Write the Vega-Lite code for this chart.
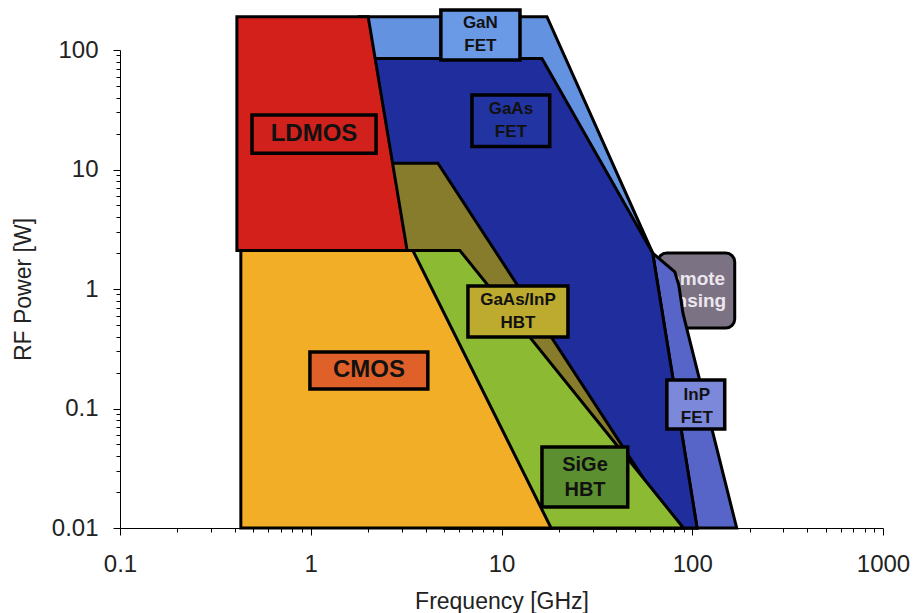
{
  "$schema": "https://vega.github.io/schema/vega-lite/v6.json",
  "width": 763,
  "height": 478,
  "autosize": {"type": "none"},
  "padding": {"left": 120, "top": 50, "right": 34, "bottom": 85},
  "background": "white",
  "config": {"view": {"stroke": null}, "font": "Liberation Sans"},
  "datasets": {
    "poly": [
      {"region": "InP", "i": 0, "x": 62, "y": 2.0},
      {"region": "InP", "i": 1, "x": 81, "y": 1.39},
      {"region": "InP", "i": 2, "x": 85, "y": 1.08},
      {"region": "InP", "i": 3, "x": 89.3, "y": 0.63},
      {"region": "InP", "i": 4, "x": 171, "y": 0.01},
      {"region": "InP", "i": 5, "x": 53, "y": 0.01},
      {"region": "GaN", "i": 0, "x": 1.8, "y": 190},
      {"region": "GaN", "i": 1, "x": 17.3, "y": 190},
      {"region": "GaN", "i": 2, "x": 62, "y": 2.0},
      {"region": "GaN", "i": 3, "x": 106, "y": 0.01},
      {"region": "GaN", "i": 4, "x": 5, "y": 0.01},
      {"region": "GaAsFET", "i": 0, "x": 1.8, "y": 85},
      {"region": "GaAsFET", "i": 1, "x": 16.3, "y": 85},
      {"region": "GaAsFET", "i": 2, "x": 62, "y": 2.0},
      {"region": "GaAsFET", "i": 3, "x": 106, "y": 0.01},
      {"region": "GaAsFET", "i": 4, "x": 5, "y": 0.01},
      {"region": "HBT", "i": 0, "x": 2.3, "y": 11.3},
      {"region": "HBT", "i": 1, "x": 4.64, "y": 11.3},
      {"region": "HBT", "i": 2, "x": 82, "y": 0.01},
      {"region": "HBT", "i": 3, "x": 5, "y": 0.01},
      {"region": "LDMOS", "i": 0, "x": 0.41, "y": 190},
      {"region": "LDMOS", "i": 1, "x": 2.0, "y": 190},
      {"region": "LDMOS", "i": 2, "x": 3.2, "y": 2.1},
      {"region": "LDMOS", "i": 3, "x": 0.41, "y": 2.1},
      {"region": "SiGe", "i": 0, "x": 3.2, "y": 2.1},
      {"region": "SiGe", "i": 1, "x": 6.05, "y": 2.1},
      {"region": "SiGe", "i": 2, "x": 90, "y": 0.01},
      {"region": "SiGe", "i": 3, "x": 9.8, "y": 0.01},
      {"region": "CMOS", "i": 0, "x": 0.43, "y": 2.1},
      {"region": "CMOS", "i": 1, "x": 3.43, "y": 2.1},
      {"region": "CMOS", "i": 2, "x": 18.2, "y": 0.01},
      {"region": "CMOS", "i": 3, "x": 0.43, "y": 0.01}
    ],
    "remote": [
      {"name": "Remote\nsensing", "x1": 66, "x2": 167, "y1": 0.472, "y2": 2.0, "cx": 97.7, "cy": 0.98}
    ],
    "labels": [
      {"name": "LDMOS", "group": "big", "x1": 0.492, "x2": 2.2, "y1": 13.7, "y2": 28.6, "cx": 1.04, "cy": 19.8},
      {"name": "CMOS", "group": "big", "x1": 0.99, "x2": 4.11, "y1": 0.1455, "y2": 0.297, "cx": 2.02, "cy": 0.208},
      {"name": "GaN\nFET", "group": "small", "x1": 4.81, "x2": 12.5, "y1": 82.5, "y2": 216, "cx": 7.75, "cy": 133.6},
      {"name": "GaAs\nFET", "group": "small", "x1": 7.0, "x2": 17.9, "y1": 15.6, "y2": 42, "cx": 11.2, "cy": 25.5},
      {"name": "GaAs/InP\nHBT", "group": "small", "x1": 6.67, "x2": 22.3, "y1": 0.396, "y2": 1.06, "cx": 12.2, "cy": 0.649},
      {"name": "SiGe\nHBT", "group": "mid", "x1": 16.3, "x2": 45.9, "y1": 0.015, "y2": 0.0476, "cx": 27.4, "cy": 0.0267},
      {"name": "InP\nFET", "group": "small", "x1": 73.6, "x2": 148, "y1": 0.0673, "y2": 0.173, "cx": 105.7, "cy": 0.104}
    ]
  },
  "layer": [
    {
      "data": {"name": "remote"},
      "mark": {"type": "rect", "fill": "#7b7283", "stroke": "#000", "strokeWidth": 3, "cornerRadius": 9, "clip": false},
      "encoding": {
        "x": {"field": "x1", "type": "quantitative", "title": "Frequency [GHz]", "scale": {"type": "log", "domain": [0.1, 1000], "nice": false},
          "axis": {
            "title": "Frequency [GHz]",
            "values": [0.1,0.2,0.3,0.4,0.5,0.6,0.7,0.8,0.9,1,2,3,4,5,6,7,8,9,10,20,30,40,50,60,70,80,90,100,200,300,400,500,600,700,800,900,1000],
            "labelExpr": "abs(log(datum.value)/LN10 - round(log(datum.value)/LN10)) < 0.001 ? format(datum.value, '~g') : ''",
            "tickSize": {"condition": {"test": "abs(log(datum.value)/LN10 - round(log(datum.value)/LN10)) < 0.001", "value": 7}, "value": 4},
            "grid": false, "domainColor": "#000", "tickColor": "#000", "domainWidth": 1, "tickWidth": 1,
            "labelFontSize": 24, "labelColor": "#222", "labelPadding": 17, "labelOverlap": false, "labelFlush": false, "labelBound": false,
            "titleFontSize": 23, "titleFontWeight": "normal", "titleColor": "#222", "titlePadding": 14
          }},
        "x2": {"field": "x2"},
        "y": {"field": "y1", "type": "quantitative", "title": "RF Power [W]", "scale": {"type": "log", "domain": [0.01, 100], "nice": false},
          "axis": {
            "title": "RF Power [W]",
            "values": [0.01,0.02,0.03,0.04,0.05,0.06,0.07,0.08,0.09,0.1,0.2,0.3,0.4,0.5,0.6,0.7,0.8,0.9,1,2,3,4,5,6,7,8,9,10,20,30,40,50,60,70,80,90,100],
            "labelExpr": "abs(log(datum.value)/LN10 - round(log(datum.value)/LN10)) < 0.001 ? format(datum.value, '~g') : ''",
            "tickSize": {"condition": {"test": "abs(log(datum.value)/LN10 - round(log(datum.value)/LN10)) < 0.001", "value": 7}, "value": 4},
            "grid": false, "domainColor": "#000", "tickColor": "#000", "domainWidth": 1, "tickWidth": 1,
            "labelFontSize": 24, "labelColor": "#222", "labelPadding": 15, "labelOverlap": false, "labelFlush": false, "labelBound": false,
            "titleFontSize": 23, "titleFontWeight": "normal", "titleColor": "#222", "titlePadding": 16
          }},
        "y2": {"field": "y2"}
      }
    },
    {
      "data": {"name": "remote"},
      "mark": {"type": "text", "font": "Liberation Sans", "fontWeight": "bold", "fontSize": 19, "lineHeight": 22, "lineBreak": "\n", "dy": -11, "color": "#ece6ee", "align": "center", "baseline": "middle", "clip": false},
      "encoding": {
        "x": {"field": "cx", "type": "quantitative", "title": "Frequency [GHz]"},
        "y": {"field": "cy", "type": "quantitative", "title": "RF Power [W]"},
        "text": {"field": "name"}
      }
    },
    {
      "data": {"name": "poly"},
      "transform": [{"filter": "datum.region == 'InP'"}],
      "mark": {"type": "line", "interpolate": "linear-closed", "fill": "#5865c8", "stroke": "#000", "strokeWidth": 3, "strokeJoin": "miter", "clip": false},
      "encoding": {
        "x": {"field": "x", "type": "quantitative", "title": "Frequency [GHz]"},
        "y": {"field": "y", "type": "quantitative", "title": "RF Power [W]"},
        "order": {"field": "i", "type": "quantitative"}
      }
    },
    {
      "data": {"name": "poly"},
      "transform": [{"filter": "datum.region == 'GaN'"}],
      "mark": {"type": "line", "interpolate": "linear-closed", "fill": "#6392e0", "stroke": "#000", "strokeWidth": 3, "strokeJoin": "miter", "clip": false},
      "encoding": {
        "x": {"field": "x", "type": "quantitative", "title": "Frequency [GHz]"},
        "y": {"field": "y", "type": "quantitative", "title": "RF Power [W]"},
        "order": {"field": "i", "type": "quantitative"}
      }
    },
    {
      "data": {"name": "poly"},
      "transform": [{"filter": "datum.region == 'GaAsFET'"}],
      "mark": {"type": "line", "interpolate": "linear-closed", "fill": "#1f2e9c", "stroke": "#000", "strokeWidth": 3, "strokeJoin": "miter", "clip": false},
      "encoding": {
        "x": {"field": "x", "type": "quantitative", "title": "Frequency [GHz]"},
        "y": {"field": "y", "type": "quantitative", "title": "RF Power [W]"},
        "order": {"field": "i", "type": "quantitative"}
      }
    },
    {
      "data": {"name": "poly"},
      "transform": [{"filter": "datum.region == 'HBT'"}],
      "mark": {"type": "line", "interpolate": "linear-closed", "fill": "#877b2c", "stroke": "#000", "strokeWidth": 3, "strokeJoin": "miter", "clip": false},
      "encoding": {
        "x": {"field": "x", "type": "quantitative", "title": "Frequency [GHz]"},
        "y": {"field": "y", "type": "quantitative", "title": "RF Power [W]"},
        "order": {"field": "i", "type": "quantitative"}
      }
    },
    {
      "data": {"name": "poly"},
      "transform": [{"filter": "datum.region == 'LDMOS'"}],
      "mark": {"type": "line", "interpolate": "linear-closed", "fill": "#d4201b", "stroke": "#000", "strokeWidth": 3, "strokeJoin": "miter", "clip": false},
      "encoding": {
        "x": {"field": "x", "type": "quantitative", "title": "Frequency [GHz]"},
        "y": {"field": "y", "type": "quantitative", "title": "RF Power [W]"},
        "order": {"field": "i", "type": "quantitative"}
      }
    },
    {
      "data": {"name": "poly"},
      "transform": [{"filter": "datum.region == 'SiGe'"}],
      "mark": {"type": "line", "interpolate": "linear-closed", "fill": "#8cba32", "stroke": "#000", "strokeWidth": 3, "strokeJoin": "miter", "clip": false},
      "encoding": {
        "x": {"field": "x", "type": "quantitative", "title": "Frequency [GHz]"},
        "y": {"field": "y", "type": "quantitative", "title": "RF Power [W]"},
        "order": {"field": "i", "type": "quantitative"}
      }
    },
    {
      "data": {"name": "poly"},
      "transform": [{"filter": "datum.region == 'CMOS'"}],
      "mark": {"type": "line", "interpolate": "linear-closed", "fill": "#f2ae26", "stroke": "#000", "strokeWidth": 3, "strokeJoin": "miter", "clip": false},
      "encoding": {
        "x": {"field": "x", "type": "quantitative", "title": "Frequency [GHz]"},
        "y": {"field": "y", "type": "quantitative", "title": "RF Power [W]"},
        "order": {"field": "i", "type": "quantitative"}
      }
    },
    {
      "data": {"name": "labels"},
      "mark": {"type": "rect", "stroke": "#000", "strokeWidth": 3.5, "clip": false},
      "encoding": {
        "x": {"field": "x1", "type": "quantitative", "title": "Frequency [GHz]"},
        "x2": {"field": "x2"},
        "y": {"field": "y1", "type": "quantitative", "title": "RF Power [W]"},
        "y2": {"field": "y2"},
        "fill": {"field": "name", "type": "nominal", "legend": null,
          "scale": {"domain": ["LDMOS", "CMOS", "GaN\nFET", "GaAs\nFET", "GaAs/InP\nHBT", "SiGe\nHBT", "InP\nFET"],
                    "range": ["#d0211c", "#df6129", "#6a9ae6", "#2233a2", "#bdab30", "#5c8f2f", "#7c88da"]}}
      }
    },
    {
      "data": {"name": "labels"},
      "transform": [{"filter": "datum.group == 'big'"}],
      "mark": {"type": "text", "font": "Liberation Sans", "fontWeight": "bold", "fontSize": 24, "color": "#111", "align": "center", "baseline": "middle", "clip": false},
      "encoding": {
        "x": {"field": "cx", "type": "quantitative", "title": "Frequency [GHz]"},
        "y": {"field": "cy", "type": "quantitative", "title": "RF Power [W]"},
        "text": {"field": "name"}
      }
    },
    {
      "data": {"name": "labels"},
      "transform": [{"filter": "datum.group == 'small'"}],
      "mark": {"type": "text", "font": "Liberation Sans", "fontWeight": "bold", "fontSize": 17, "lineHeight": 23, "lineBreak": "\n", "dy": -11.5, "color": "#111", "align": "center", "baseline": "middle", "clip": false},
      "encoding": {
        "x": {"field": "cx", "type": "quantitative", "title": "Frequency [GHz]"},
        "y": {"field": "cy", "type": "quantitative", "title": "RF Power [W]"},
        "text": {"field": "name"}
      }
    },
    {
      "data": {"name": "labels"},
      "transform": [{"filter": "datum.group == 'mid'"}],
      "mark": {"type": "text", "font": "Liberation Sans", "fontWeight": "bold", "fontSize": 20, "lineHeight": 25, "lineBreak": "\n", "dy": -12.5, "color": "#111", "align": "center", "baseline": "middle", "clip": false},
      "encoding": {
        "x": {"field": "cx", "type": "quantitative", "title": "Frequency [GHz]"},
        "y": {"field": "cy", "type": "quantitative", "title": "RF Power [W]"},
        "text": {"field": "name"}
      }
    }
  ]
}
